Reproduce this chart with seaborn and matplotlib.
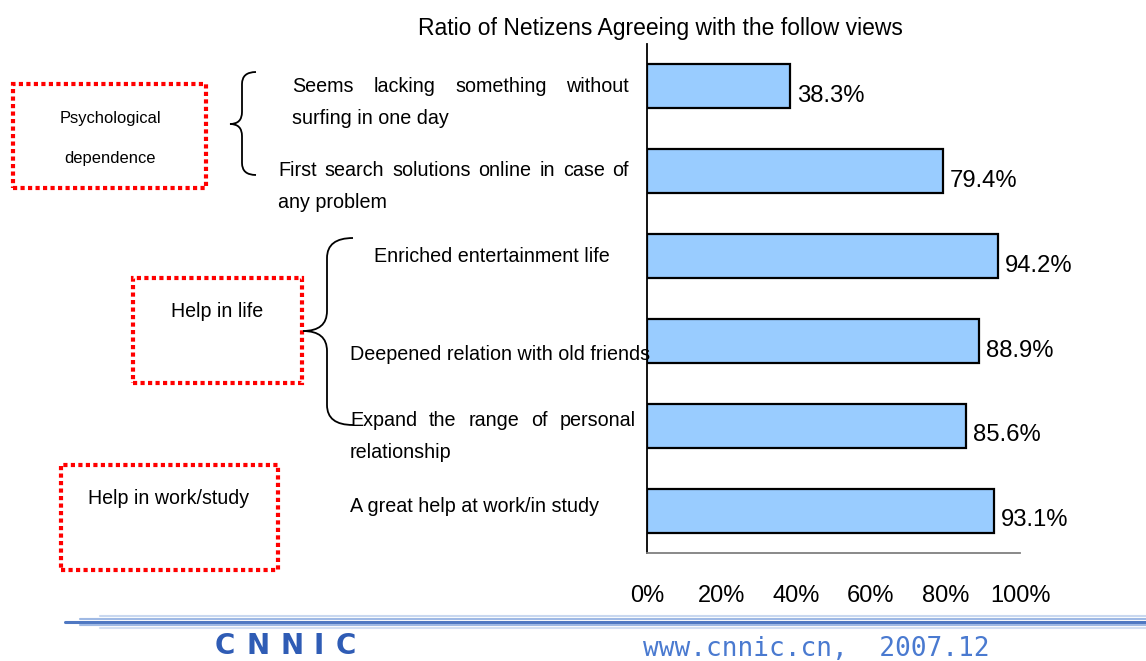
import numpy as np
import matplotlib
matplotlib.use("Agg")
import matplotlib.pyplot as plt
from matplotlib.path import Path
from matplotlib.patches import PathPatch, Rectangle
from matplotlib.lines import Line2D
import seaborn as sns

# ---- data -------------------------------------------------------------
categories = [
    "Seems lacking something without\nsurfing in one day",
    "First search solutions online in case of\nany problem",
    "Enriched entertainment life",
    "Deepened relation with old friends",
    "Expand the range of personal\nrelationship",
    "A great help at work/in study",
]
values = [38.3, 79.4, 94.2, 88.9, 85.6, 93.1]
x_ticks = [0, 20, 40, 60, 80, 100]
x_tick_labels = ["0%", "20%", "40%", "60%", "80%", "100%"]
groups = ["Psychological\ndependence", "Help in life", "Help in work/study"]
title = "Ratio of Netizens Agreeing with the follow views"
logo = "CNNIC"
footer = "www.cnnic.cn,  2007.12"

# ---- style ------------------------------------------------------------
sns.set_style("white")
plt.rcParams["font.family"] = ["Liberation Sans", "DejaVu Sans"]
plt.rcParams["text.color"] = "black"
plt.rcParams["xtick.color"] = "black"
plt.rcParams["ytick.color"] = "black"

W, H = 1146, 661
fig = plt.figure(figsize=(W / 100, H / 100), dpi=100)


def px(x, y):
    """pixel position (from top-left) -> figure fraction"""
    return x / W, 1 - y / H


left, right, top, bottom = 647, 1020, 44, 553
ax = fig.add_axes([left / W, 1 - bottom / H, (right - left) / W, (bottom - top) / H])

sns.barplot(x=values, y=categories, orient="h", color="#99ccff", saturation=1,
            edgecolor="black", linewidth=1.6, width=0.52, ax=ax)

ax.set_xlim(0, 100)
ax.set_ylim(len(categories) - 0.5, -0.5)
ax.set_xticks(x_ticks)
ax.set_xticklabels(x_tick_labels, fontsize=17)
ax.set_yticks(np.arange(-0.5, len(categories), 1))
ax.set_yticklabels([])
ax.set_xlabel("")
ax.set_ylabel("")
ax.tick_params(axis="x", direction="in", length=6, width=1, color="#404040", pad=23)
ax.tick_params(axis="y", direction="in", length=7, width=1, color="#404040")
for s in ("top", "right"):
    ax.spines[s].set_visible(False)
ax.spines["left"].set_color("black")
ax.spines["left"].set_linewidth(1.3)
ax.spines["bottom"].set_color("#808080")
ax.spines["bottom"].set_linewidth(1.3)

# value labels at bar ends
for i, v in enumerate(values):
    ax.annotate(f"{v:.1f}%", xy=(v, i), xytext=(5, -7), textcoords="offset points",
                ha="left", va="center", fontsize=17.2, annotation_clip=False)

fig.text(*px(660, 29), title, ha="center", va="center", fontsize=16.5)

# ---- category labels to the left of the axis ------------------------------
renderer = fig.canvas.get_renderer()
LABEL_SIZE = 14.2


def justified(line, x0, x1, y):
    words = line.split()
    texts = [fig.text(0, 0, w, fontsize=LABEL_SIZE, ha="left", va="center") for w in words]
    widths = [t.get_window_extent(renderer).width for t in texts]
    gap = (x1 - x0 - sum(widths)) / max(len(words) - 1, 1)
    x = x0
    for t, w in zip(texts, widths):
        t.set_position(px(x, y))
        x += w + gap


# (x start, justified right edge or None, first-line y)
label_layout = [
    (292, 629, 87),
    (278, 629, 171),
    (374, None, 257),
    (350, None, 354),
    (350, 636, 420),
    (350, None, 507),
]
for cat, (x0, x1, y0) in zip(categories, label_layout):
    lines = cat.split("\n")
    for k, line in enumerate(lines):
        y = y0 + 32 * k
        if x1 is not None and k < len(lines) - 1:
            justified(line, x0, x1, y)
        else:
            fig.text(*px(x0, y), line, fontsize=LABEL_SIZE, ha="left", va="center")

# ---- group boxes ---------------------------------------------------------
boxes = [(13, 84, 206, 188), (133, 278, 302, 383), (61, 465, 278, 570)]
for (x0, y0, x1, y1) in boxes:
    fx0, fy1 = px(x0, y1)
    fx1, fy0 = px(x1, y0)
    fig.add_artist(Rectangle((fx0, fy1), fx1 - fx0, fy0 - fy1, transform=fig.transFigure,
                             fill=False, edgecolor="#ff0000", linewidth=3,
                             linestyle=(0, (1, 0.8)), capstyle="butt"))

g1a, g1b = groups[0].split("\n")
fig.text(*px(110, 118), g1a, ha="center", va="center", fontsize=11.9)
fig.text(*px(110, 158), g1b, ha="center", va="center", fontsize=11.9)
fig.text(*px(217, 312), groups[1], ha="center", va="center", fontsize=14.1)
fig.text(*px(169, 498), groups[2], ha="center", va="center", fontsize=14.1)


# ---- curly braces --------------------------------------------------------
def brace(xt, xs, xe, y0, ym, y1, r):
    pts = [px(xe, y0), px(xs, y0), px(xs, y0 + r),
           px(xs, ym - r), px(xs, ym), px(xt, ym),
           px(xs, ym), px(xs, ym + r),
           px(xs, y1 - r), px(xs, y1), px(xe, y1)]
    codes = [Path.MOVETO, Path.CURVE3, Path.CURVE3,
             Path.LINETO, Path.CURVE3, Path.CURVE3,
             Path.CURVE3, Path.CURVE3,
             Path.LINETO, Path.CURVE3, Path.CURVE3]
    fig.add_artist(PathPatch(Path(pts, codes), transform=fig.transFigure,
                             fill=False, edgecolor="black", linewidth=1.3))


brace(230, 242, 256, 72, 124, 175, 12)
brace(303, 327, 353, 238, 331, 425, 20)

# ---- footer --------------------------------------------------------------
rules = [(616, 100, "#c9d8f0", 1.5), (619, 80, "#9fb9e4", 1.5), (622, 65, "#4f78c2", 2.2),
         (625, 80, "#9fb9e4", 1.5), (628, 100, "#d3dff2", 1.5)]
for y, x0, c, lw in rules:
    (a, b), (c2, _) = px(x0, y), px(W, y)
    fig.add_artist(Line2D([a, c2], [b, b], transform=fig.transFigure, color=c, linewidth=lw))

# wide blue logo lettering across its band
logo_w = [33, 34, 34, 20, 33]
xpos = 208
for ch, w in zip(logo, logo_w):
    fig.text(*px(xpos + w / 2, 660), ch, ha="center", va="bottom", fontsize=20,
             fontweight="bold", color="#2f5cb5", family=["DejaVu Sans"])
    xpos += w
fig.text(*px(643, 649), footer, ha="left", va="center", fontsize=18.8, color="#4a7ad0",
         family=["DejaVu Sans Mono"])

fig.savefig("out.png", dpi=100)
